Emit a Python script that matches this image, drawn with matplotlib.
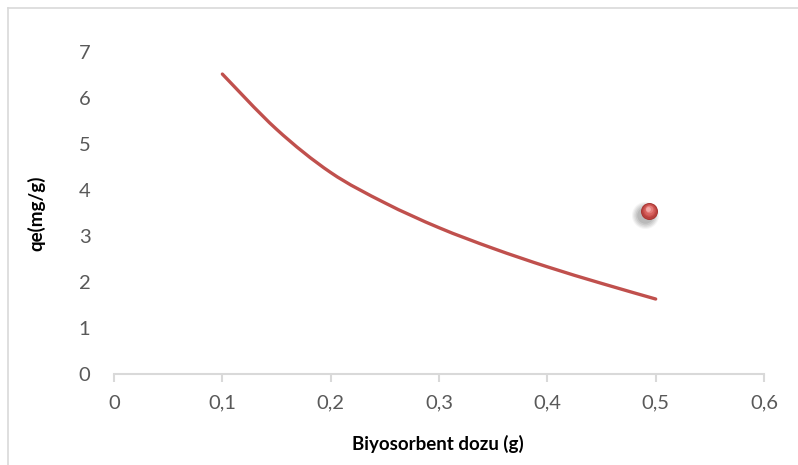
import numpy as np
import matplotlib
matplotlib.use("Agg")
import matplotlib.pyplot as plt
from matplotlib.path import Path
from matplotlib.patches import PathPatch
from matplotlib.ticker import FuncFormatter
from matplotlib.lines import Line2D
import matplotlib.transforms as mtransforms

# biyosorbent dozu (g) ve qe (mg/g)
doz = [0.1, 0.15, 0.2, 0.25, 0.3, 0.35, 0.4, 0.45, 0.5]
qe = [6.52, 5.32, 4.38, 3.72, 3.18, 2.73, 2.33, 1.97, 1.63]

# ayri olculen nokta
nokta_x = [0.494]
nokta_y = [3.54]

x_ticks = [0, 0.1, 0.2, 0.3, 0.4, 0.5, 0.6]
y_ticks = [0, 1, 2, 3, 4, 5, 6, 7]

kirmizi = "#c0504d"
gri = "#595959"

plt.rcParams["font.family"] = ["Lato", "DejaVu Sans"]

fig = plt.figure(figsize=(7.98, 4.65), dpi=100)
ax = fig.add_axes([0.1429, 0.1957, 0.8145, 0.6925])


def smooth_path(xs, ys):
    """Catmull-Rom egrisini kubik Bezier yoluna cevirir"""
    p = np.column_stack([xs, ys])
    p = np.vstack([p[0], p, p[-1]])
    verts = [p[1]]
    codes = [Path.MOVETO]
    for i in range(1, len(p) - 2):
        c1 = p[i] + (p[i + 1] - p[i - 1]) / 6
        c2 = p[i + 1] - (p[i + 2] - p[i]) / 6
        verts += [c1, c2, p[i + 1]]
        codes += [Path.CURVE4] * 3
    return Path(verts, codes)


ax.add_patch(PathPatch(smooth_path(doz, qe), facecolor="none", edgecolor=kirmizi,
                       lw=2.4, capstyle="round", zorder=3))

# kure gorunumlu isaretci: golge + katmanlar
for i, a in enumerate([0.04, 0.05, 0.06, 0.07, 0.08]):
    off = mtransforms.offset_copy(ax.transData, fig=fig, x=-4, y=-4, units="dots")
    ax.scatter(nokta_x, nokta_y, s=(380 - i * 60), color="black", alpha=a,
               linewidths=0, transform=off, zorder=4)
ax.scatter(nokta_x, nokta_y, s=150, color="#a83532", linewidths=0, zorder=5)
layers = [(120, "#b8423f", 0.4), (85, "#c9514e", 0.9), (55, "#d7625f", 1.4),
          (30, "#e57f7c", 1.9), (12, "#f2aaa8", 2.4)]
for s, c, dy in layers:
    off = mtransforms.offset_copy(ax.transData, fig=fig, x=-0.3 * dy, y=dy, units="dots")
    ax.scatter(nokta_x, nokta_y, s=s, color=c, linewidths=0, transform=off, zorder=6)

ax.set_xlim(0, 0.6)
ax.set_ylim(0, 7)
ax.set_xticks(x_ticks)
ax.set_yticks(y_ticks)
virgul = FuncFormatter(lambda v, _: ("%g" % round(v, 2)).replace(".", ","))
ax.xaxis.set_major_formatter(virgul)

for side in ["top", "right", "left"]:
    ax.spines[side].set_visible(False)
ax.spines["bottom"].set_color("#d9d9d9")
ax.spines["bottom"].set_linewidth(1.5)
ax.tick_params(axis="x", colors="#d9d9d9", width=1.5, length=6, pad=9,
               labelcolor=gri, labelsize=14.5)
ax.tick_params(axis="y", length=0, pad=17, labelcolor=gri, labelsize=14.5)

ax.set_xlabel("Biyosorbent dozu (g)", fontsize=13.5, fontweight="bold")
ax.set_ylabel("qe(mg/g)", fontsize=13.5, fontweight="bold")
ax.xaxis.set_label_coords(0.498, -0.19)
ax.yaxis.set_label_coords(-0.105, 0.5)

# dis cerceve (ust ve sol)
fig.add_artist(Line2D([8 / 798, 1], [1 - 8 / 465, 1 - 8 / 465], color="#d9d9d9", lw=1.2))
fig.add_artist(Line2D([8 / 798, 8 / 798], [0, 1 - 8 / 465], color="#d9d9d9", lw=1.2))

fig.savefig("out.png", dpi=100)
